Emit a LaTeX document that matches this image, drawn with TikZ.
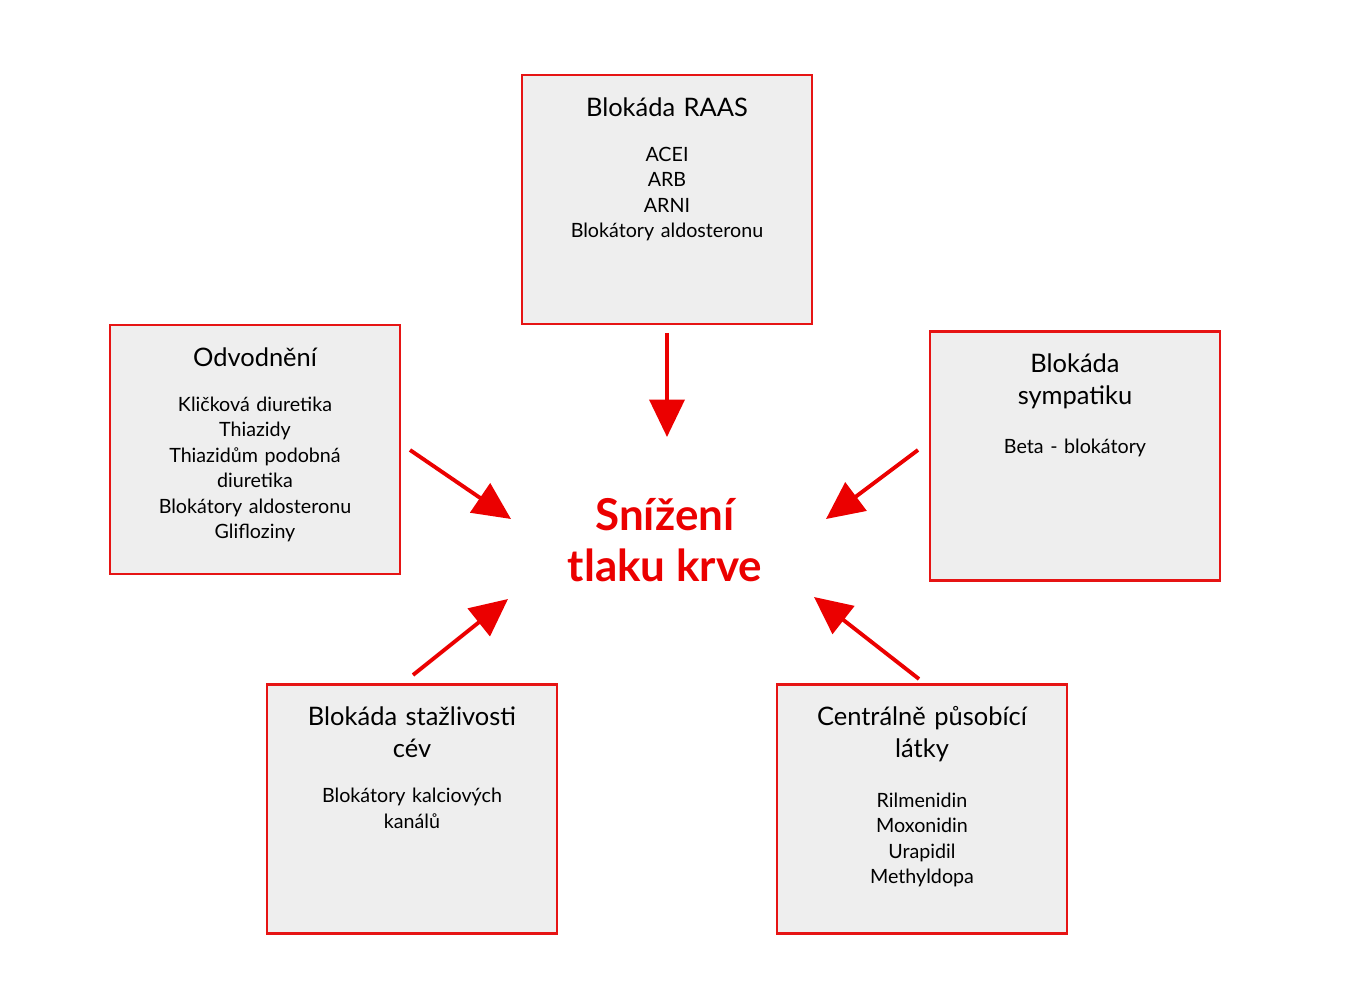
\documentclass[tikz,border=0pt]{standalone}
\usepackage{fontspec}
\setmainfont{Lato}
\usetikzlibrary{positioning, arrows.meta}
\definecolor{boxred}{RGB}{230,20,20}
\definecolor{boxgray}{RGB}{238,238,238}
\definecolor{headred}{RGB}{235,0,0}
\tikzset{
  box/.style = {draw = boxred, fill = boxgray, line width = 1.2pt, minimum width = 5.8cm, minimum height = 4.98cm, inner sep = 0pt},
  title/.style = {font = \fontsize{14.5}{18}\selectfont, align = center, text width = 5.4cm, inner sep = 0pt},
  body/.style = {font = \fontsize{11.2}{14.5}\selectfont, align = center, text width = 5.4cm, inner sep = 0pt},
  push/.style = {draw = headred, line width = 2.2pt, -{Triangle[length = 0.75cm, width = 0.7cm]}}
}
\begin{document}
\begin{tikzpicture}[x = 0.02cm, y = -0.02cm]
\useasboundingbox (0,0) rectangle (1351,989);
% center text
\node[font = \fontsize{25}{29}\selectfont\bfseries, text = headred, align = center] (goal) at (665,540) {Snížení\\tlaku krve};
% boxes
\node[box] (raas) at (667,199.5) {};
\node[box] (odv) at (255,449.5) {};
\node[box] (symp) at (1075,456) {};
\node[box] (cev) at (412,809) {};
\node[box] (centr) at (922,809) {};
% titles
\node[title, anchor = north] (traas) at ([yshift = -0.46cm]raas.north) {Blokáda RAAS};
\node[title, anchor = north] (todv) at ([yshift = -0.46cm]odv.north) {Odvodnění};
\node[title, anchor = north] (tsymp) at ([yshift = -0.46cm]symp.north) {Blokáda\\sympatiku};
\node[title, anchor = north] (tcev) at ([yshift = -0.46cm]cev.north) {Blokáda stažlivosti\\cév};
\node[title, anchor = north] (tcentr) at ([yshift = -0.46cm]centr.north) {Centrálně působící\\látky};
% bodies
\node[body, below = 0.6cm of traas] {ACEI\\ARB\\ARNI\\Blokátory aldosteronu};
\node[body, below = 0.6cm of todv] {Kličková diuretika\\Thiazidy\\Thiazidům podobná\\diuretika\\Blokátory aldosteronu\\Glifloziny};
\node[body, below = 0.6cm of tsymp] {Beta - blokátory};
\node[body, below = 0.6cm of tcev] {Blokátory kalciových\\kanálů};
\node[body, below = 0.6cm of tcentr] {Rilmenidin\\Moxonidin\\Urapidil\\Methyldopa};
% arrows
\coordinate (a1) at (667,333); \coordinate (b1) at (667,437);
\coordinate (a2) at (410,450); \coordinate (b2) at (511,519);
\coordinate (a3) at (918,450); \coordinate (b3) at (826,519);
\coordinate (a4) at (413,675); \coordinate (b4) at (508,599);
\coordinate (a5) at (919,679); \coordinate (b5) at (814,597);
\foreach \i in {1,...,5} \draw[push] (a\i) -- (b\i);
\end{tikzpicture}
\end{document}
